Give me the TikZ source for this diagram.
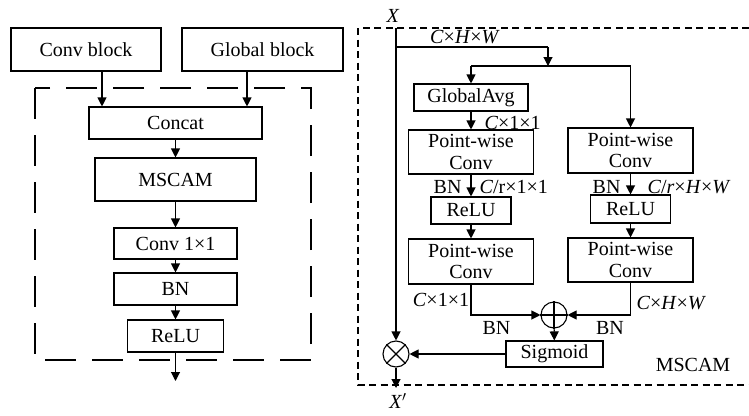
\documentclass[tikz,border=0pt]{standalone}
\usepackage{fontspec}
\setmainfont{Liberation Serif}
\usetikzlibrary{arrows.meta,calc}
\begin{document}
\begin{tikzpicture}[x=1pt,y=-1pt,line width=1.1pt,
  font=\rmfamily\fontsize{20}{21.5}\selectfont,
  box/.style={draw,rectangle,inner sep=0pt,align=center},
  arr/.style={-{Triangle[length=9pt,width=9pt]}},
  lbl/.style={inner sep=0pt},
  circ/.style={draw,circle,minimum size=26pt,inner sep=0pt},
  bigdash/.style={dash pattern=on 31pt off 16pt},
  smalldash/.style={dash pattern=on 7pt off 4.5pt}]
\useasboundingbox (0,0) rectangle (749,415);
% ---------- left part ----------
\node[box,minimum width=150pt,minimum height=43pt] (conv) at (86,49.5) {Conv block};
\node[box,minimum width=161pt,minimum height=43pt] (glob) at (262.5,49.5) {Global block};
\draw[bigdash] (35,88) rectangle (311,360);
\node[box,minimum width=173pt,minimum height=32pt] (concat) at (175.5,123) {Concat};
\node[box,minimum width=161pt,minimum height=43pt] (mscam) at (175.5,179.5) {MSCAM};
\node[box,minimum width=123pt,minimum height=31pt] (c11) at (175.5,243.5) {Conv 1×1};
\node[box,minimum width=123pt,minimum height=32pt] (bn) at (175.5,289) {BN};
\node[box,minimum width=96pt,minimum height=32pt] (relu) at (175.5,336) {ReLU};
\coordinate (lout) at (175.5,381);
\draw[arr] ([xshift=16pt]conv.south) -- ([xshift=16pt]conv.south |- concat.north);
\draw[arr] ([xshift=-15.5pt]glob.south) -- ([xshift=-15.5pt]glob.south |- concat.north);
\draw[arr] (concat) -- (mscam);
\draw[arr] (mscam) -- (c11);
\draw[arr] (c11) -- (bn);
\draw[arr] (bn) -- (relu);
\draw[arr] (relu) -- (lout);
% ---------- right part ----------
\draw[smalldash] (749,28) -- (358,28) -- (358,385) -- (749,385);
\node[lbl] (X) at (393,16) {\textit{X}};
\coordinate (xtop) at (396,28);
\coordinate (sp1) at (396,47);
\coordinate (sp2) at (548,47);
\coordinate (sp3) at (548,66);
\coordinate (sl) at (471,66);
\coordinate (sr) at (630.5,66);
\node[lbl] (chw) at (465,37) {\textit{C}×\textit{H}×\textit{W}};
\node[box,minimum width=114pt,minimum height=27pt] (gavg) at (471,97.5) {GlobalAvg};
\node[box,minimum width=125pt,minimum height=44pt] (pwl1) at (471,152) {Point-wise\\Conv};
\node[box,minimum width=125pt,minimum height=45pt] (pwr1) at (630.5,150.5) {Point-wise\\Conv};
\node[box,minimum width=80pt,minimum height=27pt] (relul) at (471,210.5) {ReLU};
\node[box,minimum width=80pt,minimum height=28pt] (relur) at (630.5,209) {ReLU};
\node[box,minimum width=125pt,minimum height=45pt] (pwl2) at (471,261.5) {Point-wise\\Conv};
\node[box,minimum width=125pt,minimum height=44pt] (pwr2) at (630.5,260) {Point-wise\\Conv};
\node[circ] (op) at (554,315) {};
\draw (op.north) -- (op.south) (op.west) -- (op.east);
\node[box,minimum width=97pt,minimum height=26pt] (sig) at (554.5,354) {Sigmoid};
\node[circ] (ot) at (396,354) {};
\draw (ot.north west) -- (ot.south east) (ot.north east) -- (ot.south west);
\coordinate (xout) at (396,388);
\node[lbl] (Xp) at (398,401) {\textit{X}$'$};
\node[lbl] (mlab) at (693,365) {MSCAM};
% labels
\node[lbl,anchor=west] (l1) at (484,123) {\textit{C}×1×1};
\node[lbl,anchor=east] (bn1) at (462,187) {BN};
\node[lbl,anchor=west] (l2) at (479,187) {\textit{C}/r×1×1};
\node[lbl,anchor=east] (bn2) at (621,187) {BN};
\node[lbl,anchor=west] (l3) at (647,187) {\textit{C}/\textit{r}×\textit{H}×\textit{W}};
\node[lbl] (l4) at (441,300) {\textit{C}×1×1};
\node[lbl] (bn3) at (496.5,328) {BN};
\node[lbl,anchor=west] (l5) at (636,303) {\textit{C}×\textit{H}×\textit{W}};
\node[lbl] (bn4) at (610,328) {BN};
% connectors
\draw[arr] (xtop) -- (ot.north);
\draw (sp1) -- (sp2);
\draw[arr] (sp2) -- (sp3);
\draw (sl) -- (sr);
\draw[arr] (sl) -- (gavg.north);
\draw[arr] (sr) -- (pwr1.north);
\draw[arr] (gavg) -- (pwl1);
\draw[arr] (pwl1) -- (relul);
\draw[arr] (relul) -- (pwl2);
\draw[arr] (pwr1) -- (relur);
\draw[arr] (relur) -- (pwr2);
\draw[arr] (pwl2.south) |- (op.west);
\draw[arr] (pwr2.south) |- (op.east);
\draw[arr] (op) -- (sig);
\draw[arr] (sig) -- (ot);
\draw[arr] (ot) -- (xout);
\end{tikzpicture}
\end{document}
